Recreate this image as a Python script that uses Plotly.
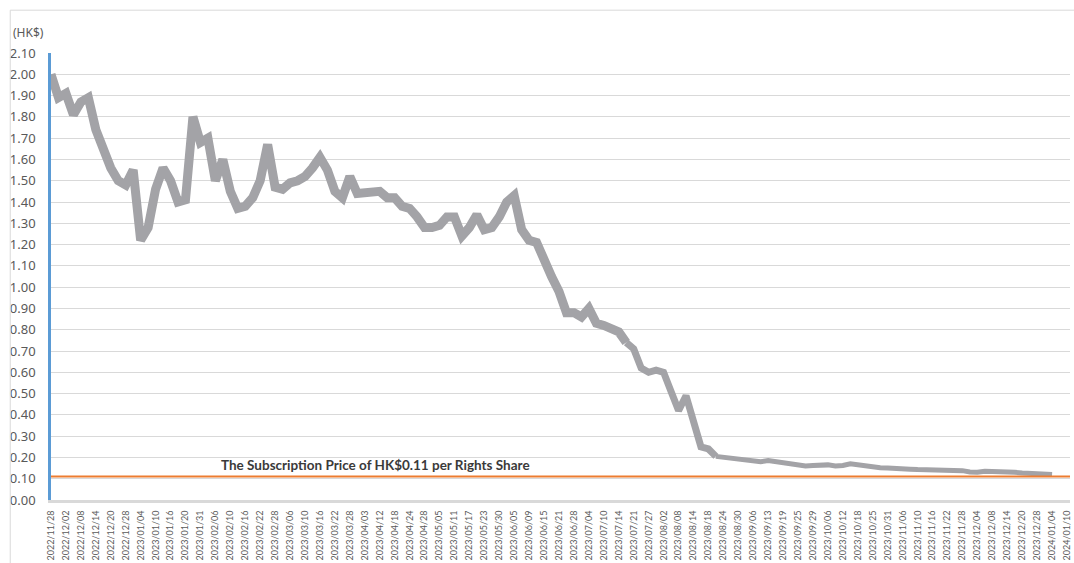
import plotly.graph_objects as go

# Trading-day tick labels (one every four trading days)
tick_dates = [
    "2022/11/28", "2022/12/02", "2022/12/08", "2022/12/14", "2022/12/20", "2022/12/28",
    "2023/01/04", "2023/01/10", "2023/01/16", "2023/01/20", "2023/01/31", "2023/02/06",
    "2023/02/10", "2023/02/16", "2023/02/22", "2023/02/28", "2023/03/06", "2023/03/10",
    "2023/03/16", "2023/03/22", "2023/03/28", "2023/04/03", "2023/04/12", "2023/04/18",
    "2023/04/24", "2023/04/28", "2023/05/05", "2023/05/11", "2023/05/17", "2023/05/23",
    "2023/05/30", "2023/06/05", "2023/06/09", "2023/06/15", "2023/06/21", "2023/06/28",
    "2023/07/04", "2023/07/10", "2023/07/14", "2023/07/21", "2023/07/27", "2023/08/02",
    "2023/08/08", "2023/08/14", "2023/08/18", "2023/08/24", "2023/08/30", "2023/09/06",
    "2023/09/13", "2023/09/19", "2023/09/25", "2023/09/29", "2023/10/06", "2023/10/12",
    "2023/10/18", "2023/10/25", "2023/10/31", "2023/11/06", "2023/11/10", "2023/11/16",
    "2023/11/22", "2023/11/28", "2023/12/04", "2023/12/08", "2023/12/14", "2023/12/20",
    "2023/12/28", "2024/01/04", "2024/01/10",
]
DAYS_PER_TICK = 4

# Closing price (HK$), sampled every second trading day from 2022/11/28
closing_price = [
    2.00, 1.89, 1.91, 1.81, 1.87, 1.89, 1.74, 1.65, 1.56, 1.50,
    1.48, 1.55, 1.22, 1.28, 1.46, 1.56, 1.50, 1.40, 1.41, 1.80,
    1.68, 1.70, 1.50, 1.60, 1.45, 1.37, 1.38, 1.42, 1.50, 1.67,
    1.47, 1.46, 1.49, 1.50, 1.52, 1.56, 1.61, 1.55, 1.45, 1.42,
    1.52, 1.44, 1.44, 1.45, 1.45, 1.42, 1.42, 1.38, 1.37, 1.33,
    1.28, 1.28, 1.29, 1.33, 1.33, 1.24, 1.28, 1.34, 1.27, 1.28,
    1.33, 1.40, 1.43, 1.27, 1.22, 1.21, 1.12, 1.05, 0.98, 0.88,
    0.88, 0.86, 0.90, 0.83, 0.82, 0.81, 0.79, 0.74, 0.71, 0.62,
    0.60, 0.61, 0.60, 0.51, 0.42, 0.49, 0.36, 0.25, 0.24, 0.205,
    0.20, 0.20, 0.195, 0.185, 0.18, 0.18, 0.185, 0.18, 0.172, 0.17,
    0.165, 0.16, 0.162, 0.165, 0.165, 0.16, 0.162, 0.17, 0.165, 0.157,
    0.155, 0.152, 0.15, 0.15, 0.147, 0.145, 0.143, 0.142, 0.14, 0.14,
    0.14, 0.142, 0.138, 0.132, 0.13, 0.135, 0.135, 0.132, 0.13, 0.13,
    0.127, 0.125, 0.125, 0.122, 0.12,
]
SAMPLE_STEP = 2
trading_day = [i * SAMPLE_STEP for i in range(len(closing_price))]

subscription_price = 0.11
subscription_text = "The Subscription Price of HK$0.11 per Rights Share"

LINE_GREY = "#a3a3a7"
GRID = "#d9d9d9"
TEXT = "#595959"
FONT = "Lato"
NUM_FONT = "Noto Sans"

fig = go.Figure()

# The price line is drawn thicker while the price is high and thinner in the tail
segments = [(0, 78, 9), (77, 90, 7), (89, len(closing_price), 5)]
for start, stop, width in segments:
    fig.add_trace(go.Scatter(
        x=trading_day[start:stop], y=closing_price[start:stop],
        mode="lines", line=dict(color=LINE_GREY, width=width),
        hoverinfo="x+y", showlegend=False,
    ))

x_max = (len(tick_dates) - 1) * DAYS_PER_TICK + 0.8

# Subscription price reference line
fig.add_trace(go.Scatter(
    x=[0, x_max], y=[subscription_price, subscription_price],
    mode="lines", line=dict(color="#ed7d31", width=2),
    hoverinfo="skip", showlegend=False,
))

fig.add_annotation(
    x=45, y=subscription_price, xref="x", yref="y",
    text=subscription_text, showarrow=False,
    xanchor="left", yanchor="bottom", yshift=2,
    font=dict(family=FONT, size=13.5, color="#3a3a3a", weight="bold"),
)

fig.add_annotation(
    x=-0.039, y=1.045, xref="paper", yref="paper",
    text="(HK$)", showarrow=False, xanchor="left", yanchor="middle",
    font=dict(family=NUM_FONT, size=12, color=TEXT),
)

# Light frame around the chart area
fig.add_shape(type="line", xref="paper", yref="paper",
              x0=-0.040, x1=1.05, y0=1.0958, y1=1.0958,
              line=dict(color=GRID, width=1))
fig.add_shape(type="line", xref="paper", yref="paper",
              x0=-0.040, x1=-0.040, y0=-0.2, y1=1.0958,
              line=dict(color=GRID, width=1))

fig.update_layout(
    width=1074, height=563,
    margin=dict(l=51, r=2, t=53, b=61),
    paper_bgcolor="white", plot_bgcolor="white",
    font=dict(family=FONT, color=TEXT),
    xaxis=dict(
        range=[0, x_max],
        tickmode="array",
        tickvals=[j * DAYS_PER_TICK for j in range(len(tick_dates))],
        ticktext=tick_dates,
        tickangle=-90,
        tickfont=dict(family=FONT, size=9, color=TEXT),
        showgrid=False, zeroline=False,
        showline=True, linecolor="#d9d9d9", linewidth=3,
        ticks="", ticklabelstandoff=4,
    ),
    yaxis=dict(
        range=[0, 2.1],
        tick0=0, dtick=0.1, tickformat=".2f",
        tickfont=dict(family=NUM_FONT, size=13, color=TEXT),
        showgrid=True, gridcolor=GRID, gridwidth=1,
        zeroline=False,
        showline=True, linecolor="#5b9bd5", linewidth=2.5,
        ticks="", ticklabelstandoff=10,
    ),
)

fig.write_html("out.html")
